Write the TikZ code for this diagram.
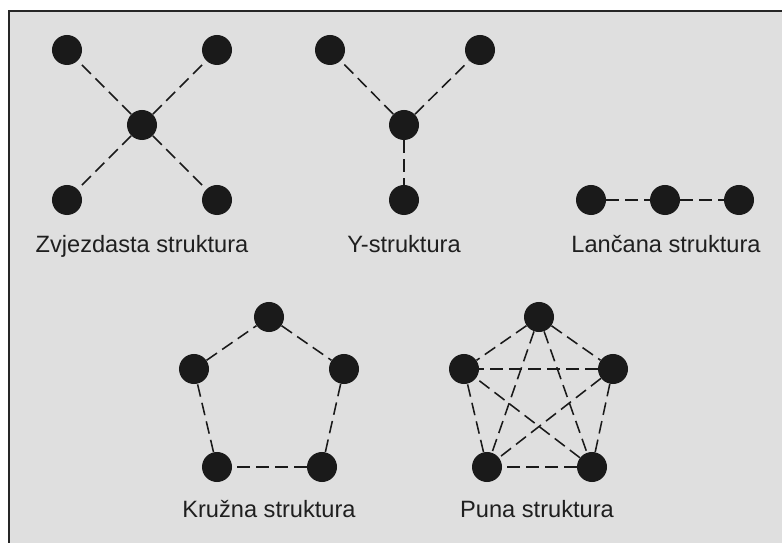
\documentclass[tikz,border=0pt]{standalone}
\usepackage{fontspec}
\setmainfont{Liberation Sans}
\definecolor{pozadina}{HTML}{DFDFDF}
\definecolor{tocka}{HTML}{1A1A1A}
\tikzset{
  vrh/.style={circle, fill=tocka, inner sep=0pt, minimum size=0.75cm},
  veza/.style={draw=tocka, line width=1.1pt, dash pattern=on 9pt off 4.5pt},
  naziv/.style={anchor=base, text=black!88, font=\fontsize{16.8}{20}\selectfont},
}
\begin{document}
\begin{tikzpicture}[x=0.025cm, y=-0.025cm]
    \useasboundingbox (0,0) rectangle (782,543);
    \fill[pozadina] (9,11) rectangle (782,543);
    \draw[line width=1.4pt, black!85] (782,11) -- (9,11) -- (9,543);

    % zvjezdasta
    \node [vrh] (Z1) at (67,50) {};
    \node [vrh] (Z2) at (217,50) {};
    \node [vrh] (Z0) at (142,125) {};
    \node [vrh] (Z3) at (67,200) {};
    \node [vrh] (Z4) at (217,200) {};
    \draw [veza] (Z0) -- (Z1); \draw [veza] (Z0) -- (Z2);
    \draw [veza] (Z0) -- (Z3); \draw [veza] (Z0) -- (Z4);
    \node [naziv] (zvj) at (142,253) {Zvjezdasta struktura};

    % Y
    \node [vrh] (Y1) at (330,50) {};
    \node [vrh] (Y2) at (480,50) {};
    \node [vrh] (Y0) at (404,125) {};
    \node [vrh] (Y3) at (404,200) {};
    \draw [veza] (Y0) -- (Y1); \draw [veza] (Y0) -- (Y2); \draw [veza] (Y0) -- (Y3);
    \node [naziv] (ystr) at (404,253) {Y-struktura};

    % lancana
    \node [vrh] (L1) at (591,200) {};
    \node [vrh] (L2) at (665,200) {};
    \node [vrh] (L3) at (739,200) {};
    \draw [veza] (L1) -- (L2); \draw [veza] (L2) -- (L3);
    \node [naziv] (lan) at (666,253) {Lančana struktura};

    % kruzna
    \node [vrh] (K1) at (269,317) {};
    \node [vrh] (K2) at (344,369) {};
    \node [vrh] (K3) at (322,467) {};
    \node [vrh] (K4) at (217,467) {};
    \node [vrh] (K5) at (194,369) {};
    \draw [veza] (K1) -- (K2); \draw [veza] (K2) -- (K3); \draw [veza] (K3) -- (K4);
    \draw [veza] (K4) -- (K5); \draw [veza] (K5) -- (K1);
    \node [naziv] (kru) at (269,517) {Kružna struktura};

    % puna
    \node [vrh] (P1) at (539,317) {};
    \node [vrh] (P2) at (613,369) {};
    \node [vrh] (P3) at (592,467) {};
    \node [vrh] (P4) at (487,467) {};
    \node [vrh] (P5) at (464,369) {};
    \draw [veza] (P1) -- (P2); \draw [veza] (P1) -- (P3); \draw [veza] (P1) -- (P4); \draw [veza] (P1) -- (P5);
    \draw [veza] (P2) -- (P3); \draw [veza] (P2) -- (P4); \draw [veza] (P2) -- (P5);
    \draw [veza] (P3) -- (P4); \draw [veza] (P3) -- (P5);
    \draw [veza] (P4) -- (P5);
    \node [naziv] (pun) at (537,517) {Puna struktura};
\end{tikzpicture}
\end{document}
